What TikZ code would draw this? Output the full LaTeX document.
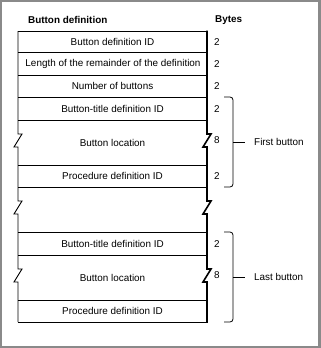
\documentclass[tikz,border=0pt]{standalone}
\usepackage{fontspec}
\setmainfont{Liberation Sans}
\usetikzlibrary{positioning,calc}
\definecolor{frameGray}{RGB}{138,138,138}
\definecolor{lineBlack}{RGB}{0,0,0}

\begin{document}
\begin{tikzpicture}[x=1pt,y=-1pt,
    field/.style={font=\fontsize{9.9}{11}\selectfont,inner sep=0pt},
    bytes/.style={font=\fontsize{9.9}{11}\selectfont,inner sep=0pt,anchor=west},
    head/.style={font=\fontsize{9.9}{11}\selectfont\bfseries,inner sep=0pt,anchor=west},
    side/.style={line width=0.9pt,draw=lineBlack},
    rside/.style={line width=1.6pt,draw=lineBlack},
    rule/.style={line width=0.9pt,draw=lineBlack},
    brace/.style={line width=0.8pt,rounded corners=3pt},
    tick/.style={line width=0.8pt}
  ]
    % frame
    \fill[frameGray] (0,0) rectangle (321,348);
    \fill[white] (1.5,1.5) rectangle (318,345.5);

    \node[head] (hdef) at (28,20) {Button definition};
    \node[head] (hbytes) at (215,20) {Bytes};

    % outline of the record
    \draw[side] (18,31) -- (18,134) -- (22,134) -- (14,147) -- (18,147)
      -- (18,201) -- (22,201) -- (14,214) -- (18,214)
      -- (18,269) -- (22,269) -- (14,282) -- (18,282) -- (18,322);
    \draw[rside] (207,30.5) -- (207,134) -- (211,134) -- (203,147) -- (207,147)
      -- (207,201) -- (211,201) -- (203,214) -- (207,214)
      -- (207,269) -- (211,269) -- (203,282) -- (207,282) -- (207,322.8);
    \foreach \y in {31,52,75,97,120,165,187,232,255,300,322}
      \draw[rule] (18,\y) -- (207,\y);

    \node[field] (bdid) at (112.5,41.5) {Button definition ID};
    \node[field] (len) at (113,63.5) {Length of the remainder of the definition};
    \node[field] (num) at (112.5,86) {Number of buttons};
    \node[field] (title1) at (112.5,108.5) {Button-title definition ID};
    \node[field] (loc1) at (112.5,142.5) {Button location};
    \node[field] (proc1) at (112.5,176) {Procedure definition ID};
    \node[field] (title2) at (112.5,243.5) {Button-title definition ID};
    \node[field] (loc2) at (112.5,277.5) {Button location};
    \node[field] (proc2) at (112.5,311) {Procedure definition ID};

    \node[bytes] (nbdid) at (214,42) {2};
    \node[bytes] (nlen) at (214,64) {2};
    \node[bytes] (nnum) at (214,86.5) {2};
    \node[bytes] (ntitle1) at (214,109) {2};
    \node[bytes] (nloc1) at (214,140) {8};
    \node[bytes] (nproc1) at (214,176.5) {2};
    \node[bytes] (ntitle2) at (214,244) {2};
    \node[bytes] (nloc2) at (214,275) {8};

    % braces
    \draw[brace] (224,97) -- (233,97) -- (233,187) -- (224,187);
    \draw[brace] (224,232) -- (233,232) -- (233,322) -- (224,322);
    \coordinate (fb) at (233,142);
    \coordinate (lb) at (233,277);
    \node[bytes] (first) at (254,142) {First button};
    \node[bytes] (last) at (254,277) {Last button};
    \draw[tick] (fb) -- ([xshift=-9pt]first.west);
    \draw[tick] (lb) -- ([xshift=-9pt]last.west);
  \end{tikzpicture}
\end{document}
